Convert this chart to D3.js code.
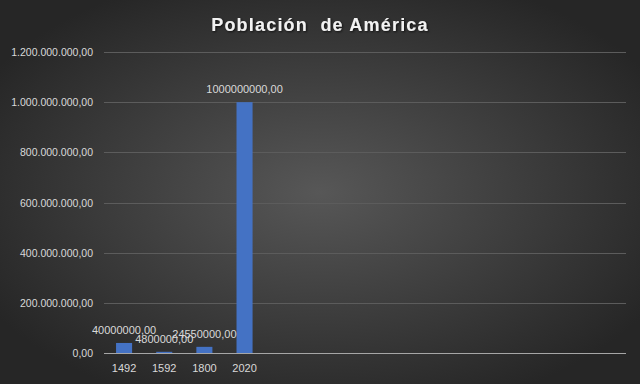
<!DOCTYPE html>
<html>
<head>
<meta charset="utf-8">
<script src="https://cdn.jsdelivr.net/npm/d3@7"></script>
<style>
  body { margin: 0; background: #2b2b2b; }
  svg { display: block; font-family: "Liberation Sans", Arial, sans-serif; }
  .grid line { stroke: #5c5c5c; stroke-width: 1px; }
  .ylab, .xlab, .dlab { fill: #d9d9d9; font-size: 11px; }
</style>
</head>
<body>
<svg id="chart" width="640" height="384"></svg>
<script>
  // data
  const years = ['1492', '1592', '1800', '2020', '', '', '', '', '', '', '', '', ''];
  const population = [40000000, 4800000, 24550000, 1000000000, null, null, null, null, null, null, null, null, null];
  const yTicks = [0, 200000000, 400000000, 600000000, 800000000, 1000000000, 1200000000];
  const title = 'Población  de América';

  const width = 640, height = 384;
  const margin = {top: 52, right: 14, bottom: 31, left: 104};

  const svg = d3.select('#chart');

  const defs = svg.append('defs');
  const grad = defs.append('radialGradient')
    .attr('id', 'bg')
    .attr('cx', '50%').attr('cy', '50%').attr('r', '60%');
  grad.append('stop').attr('offset', '0%').attr('stop-color', '#575757');
  grad.append('stop').attr('offset', '100%').attr('stop-color', '#262626');

  const shadow = defs.append('filter').attr('id', 'tshadow')
    .attr('x', '-10%').attr('y', '-30%').attr('width', '120%').attr('height', '160%');
  shadow.append('feDropShadow')
    .attr('dx', 1).attr('dy', 1).attr('stdDeviation', 1)
    .attr('flood-color', '#000').attr('flood-opacity', 0.7);

  svg.append('rect')
    .attr('width', width).attr('height', height)
    .attr('fill', 'url(#bg)');

  const x = d3.scaleBand()
    .domain(d3.range(years.length))
    .range([margin.left, width - margin.right])
    .paddingInner(0.6)
    .paddingOuter(0.3);

  const y = d3.scaleLinear()
    .domain([0, 1200000000])
    .range([height - margin.bottom, margin.top]);

  const fmtAxis = v => d3.format(',.2f')(v).replace(/,/g, '#').replace('.', ',').replace(/#/g, '.');
  const fmtLabel = v => d3.format('.2f')(v).replace('.', ',');

  // gridlines
  svg.append('g').attr('class', 'grid')
    .selectAll('line')
    .data(yTicks.filter(d => d > 0))
    .join('line')
    .attr('x1', margin.left).attr('x2', width - margin.right)
    .attr('y1', d => Math.round(y(d)) + 0.5)
    .attr('y2', d => Math.round(y(d)) + 0.5);

  // y labels
  svg.append('g')
    .selectAll('text')
    .data(yTicks)
    .join('text')
    .attr('class', 'ylab')
    .attr('x', margin.left - 11)
    .attr('y', d => y(d) + 4)
    .attr('text-anchor', 'end')
    .style('font-size', '10.5px')
    .text(fmtAxis);

  const pts = population.map((v, i) => ({i, v})).filter(d => d.v !== null);

  // bars
  svg.append('g')
    .selectAll('rect')
    .data(pts)
    .join('rect')
    .attr('x', d => x(d.i))
    .attr('width', x.bandwidth())
    .attr('y', d => y(d.v))
    .attr('height', d => y(0) - y(d.v))
    .attr('fill', '#4472c4');

  // axis line
  svg.append('line')
    .attr('x1', margin.left).attr('x2', width - margin.right)
    .attr('y1', Math.round(y(0)) + 0.5).attr('y2', Math.round(y(0)) + 0.5)
    .attr('stroke', '#a6a6a6')
    .attr('stroke-width', 1.2);

  // category labels
  svg.append('g')
    .selectAll('text')
    .data(years)
    .join('text')
    .attr('class', 'xlab')
    .attr('x', (d, i) => x(i) + x.bandwidth() / 2)
    .attr('y', y(0) + 19)
    .attr('text-anchor', 'middle')
    .text(d => d);

  // data labels
  svg.append('g')
    .selectAll('text')
    .data(pts)
    .join('text')
    .attr('class', 'dlab')
    .attr('x', d => x(d.i) + x.bandwidth() / 2)
    .attr('y', d => y(d.v) - 9)
    .attr('text-anchor', 'middle')
    .text(d => fmtLabel(d.v));

  svg.append('text')
    .attr('x', width / 2)
    .attr('y', 31)
    .attr('text-anchor', 'middle')
    .attr('fill', '#f2f2f2')
    .attr('font-size', '18px')
    .attr('font-weight', 'bold')
    .attr('letter-spacing', '1.2px')
    .attr('filter', 'url(#tshadow)')
    .style('white-space', 'pre')
    .text(title);
</script>
</body>
</html>
